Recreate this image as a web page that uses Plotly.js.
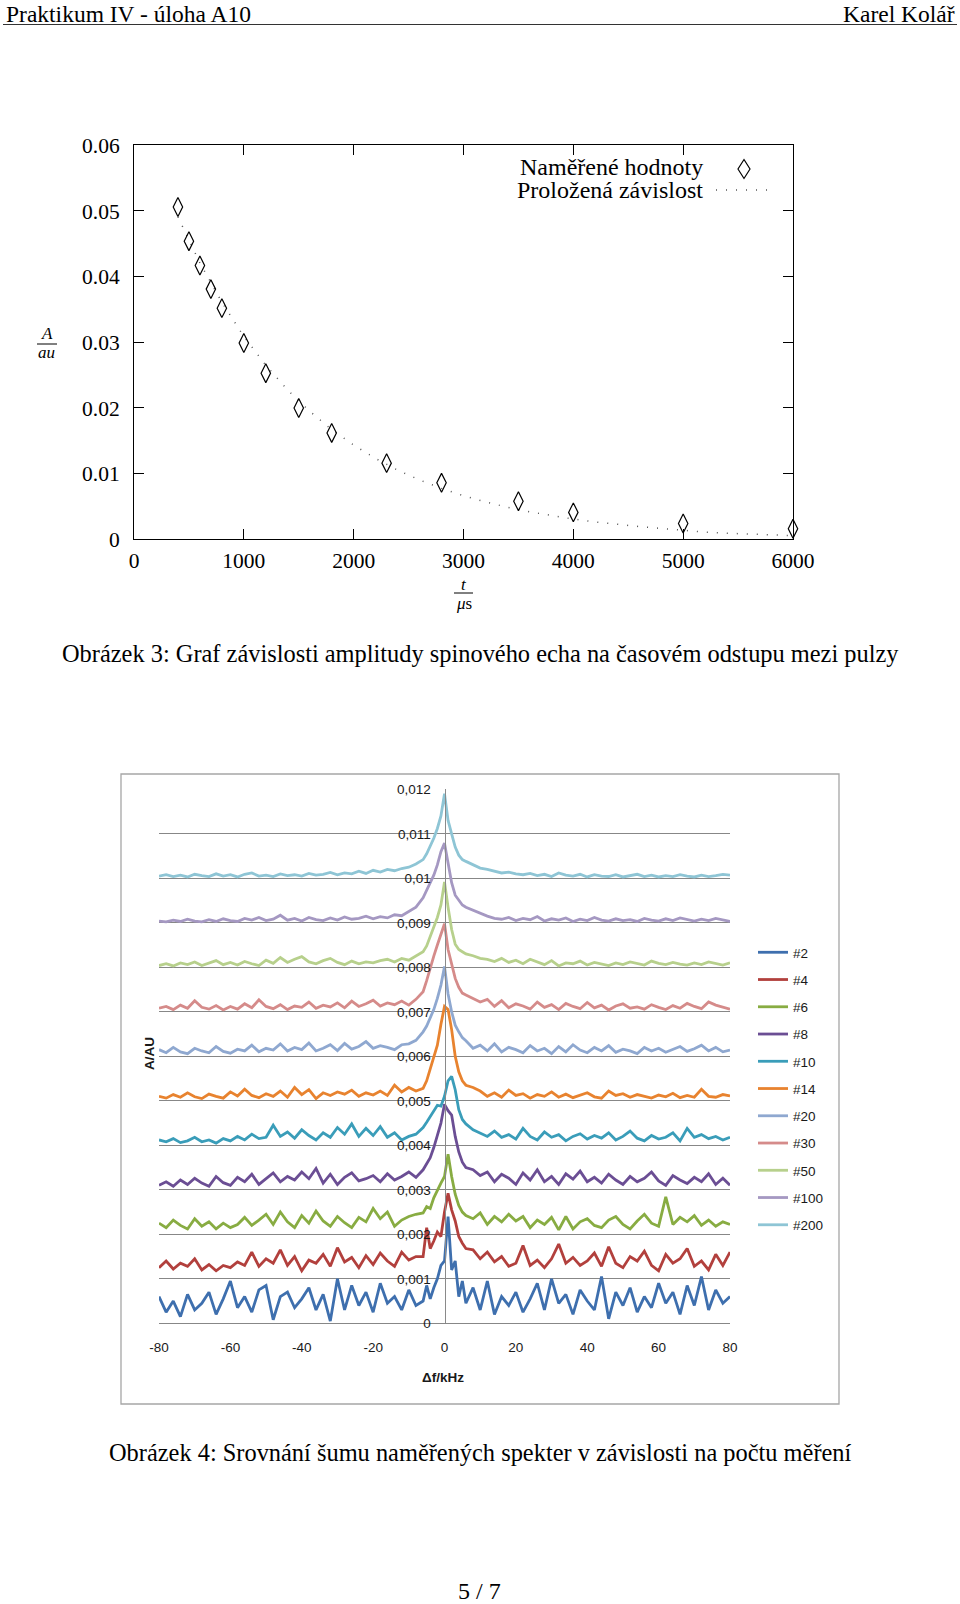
<!DOCTYPE html>
<html><head><meta charset="utf-8">
<script src="https://cdn.plot.ly/plotly-3.0.1.min.js"></script>
<style>html,body{margin:0;padding:0;background:#fff}#chart{width:960px;height:1604px}</style>
</head><body><div id="chart"></div>
<script>
// ---------- Obrázek 3 data ----------
const echoTime = [400,500,600,700,800,1000,1200,1500,1800,2300,2800,3500,4000,5000,6000];
const echoAmp  = [0.0506,0.0454,0.0417,0.0381,0.0352,0.0299,0.0253,0.0200,0.0162,0.0116,0.0086,0.0058,0.0041,0.0024,0.0016];
const fitTime  = [400,600,800,1000,1200,1400,1600,1800,2000,2200,2400,2600,2800,3000,3200,3400,3600,3800,4000,4200,4400,4600,4800,5000,5200,5400,5600,5800,6000];
const fitAmp   = [0.0491,0.0421,0.0361,0.0309,0.0265,0.0227,0.0195,0.0167,0.01434,0.0123,0.01054,0.00904,0.00775,0.00664,0.0057,0.00488,0.00419,0.00359,0.00308,0.00264,0.00226,0.00194,0.00166,0.00135,0.00110,0.00092,0.00078,0.00066,0.00056];
const ampTickVals  = [0,0.01,0.02,0.03,0.04,0.05,0.06];
const ampTickText  = ['0','0.01','0.02','0.03','0.04','0.05','0.06'];
const timeTickVals = [0,1000,2000,3000,4000,5000,6000];
const timeTickText = ['0','1000','2000','3000','4000','5000','6000'];

// ---------- Obrázek 4 data ----------
const freq = [-80,-78,-76,-74,-72,-70,-68,-66,-64,-62,-60,-58,-56,-54,-52,-50,-48,-46,-44,-42,-40,-38,-36,-34,-32,-30,-28,-26,-24,-22,-20,-18,-16,-14,-12,-10,-8,
  -6,-5,-4,-3,-2,-1,0,1,2,3,4,5,6,
  8,10,12,14,16,18,20,22,24,26,28,30,32,34,36,38,40,42,44,46,48,50,52,54,56,58,60,62,64,66,68,70,72,74,76,78,80];
const freqTickVals = [-80,-60,-40,-20,0,20,40,60,80];
const freqTickText = ['-80','-60','-40','-20','0','20','40','60','80'];
const specTickVals = [0,0.001,0.002,0.003,0.004,0.005,0.006,0.007,0.008,0.009,0.01,0.011,0.012];
const specTickText = ['0','0,001','0,002','0,003','0,004','0,005','0,006','0,007','0,008','0,009','0,01','0,011','0,012'];
const seriesNames = ['#2','#4','#6','#8','#10','#14','#20','#30','#50','#100','#200'];

const s2 = [0.00060,0.00025,0.00050,0.00015,0.00065,0.00030,0.00045,0.00070,0.00020,0.00055,0.00095,0.00035,0.00060,0.00025,0.00075,0.00085,0.00008,0.00060,0.00070,0.00035,0.00055,0.00080,0.00030,0.00065,0.00005,0.00100,0.00030,0.00085,0.00040,0.00070,0.00025,0.00090,0.00045,0.00060,0.00030,0.00075,0.00040,
  0.00050,0.00085,0.00055,0.00080,0.00100,0.00130,0.00140,0.00240,0.00120,0.00140,0.00060,0.00095,0.00045,
  0.00080,0.00030,0.00095,0.00020,0.00060,0.00040,0.00070,0.00025,0.00055,0.00090,0.00030,0.00100,0.00045,0.00065,0.00020,0.00075,0.00050,0.00030,0.00105,0.00010,0.00070,0.00040,0.00080,0.00025,0.00060,0.00035,0.00090,0.00045,0.00070,0.00020,0.00085,0.00040,0.00105,0.00030,0.00075,0.00045,0.00060];
const s4 = [0.00125,0.00140,0.00122,0.00135,0.00128,0.00145,0.00120,0.00132,0.00118,0.00130,0.00125,0.00138,0.00130,0.00160,0.00128,0.00145,0.00135,0.00165,0.00130,0.00150,0.00118,0.00142,0.00135,0.00155,0.00128,0.00170,0.00138,0.00148,0.00125,0.00152,0.00132,0.00158,0.00140,0.00128,0.00160,0.00142,0.00150,
  0.00150,0.00215,0.00168,0.00185,0.00205,0.00195,0.00250,0.00292,0.00255,0.00230,0.00195,0.00180,0.00168,
  0.00165,0.00145,0.00160,0.00138,0.00150,0.00128,0.00135,0.00175,0.00130,0.00142,0.00125,0.00145,0.00178,0.00135,0.00148,0.00130,0.00140,0.00158,0.00128,0.00172,0.00135,0.00125,0.00150,0.00140,0.00162,0.00130,0.00118,0.00155,0.00135,0.00145,0.00168,0.00128,0.00140,0.00120,0.00155,0.00130,0.00160];
const s6 = [0.00225,0.00215,0.00232,0.00220,0.00212,0.00235,0.00218,0.00228,0.00212,0.00225,0.00215,0.00222,0.00238,0.00220,0.00232,0.00245,0.00222,0.00250,0.00228,0.00215,0.00242,0.00225,0.00252,0.00230,0.00218,0.00240,0.00226,0.00215,0.00238,0.00228,0.00258,0.00235,0.00250,0.00218,0.00232,0.00240,0.00245,
  0.00248,0.00262,0.00258,0.00282,0.00300,0.00315,0.00330,0.00380,0.00330,0.00290,0.00265,0.00250,0.00242,
  0.00235,0.00248,0.00222,0.00240,0.00228,0.00245,0.00230,0.00240,0.00215,0.00232,0.00222,0.00238,0.00210,0.00240,0.00212,0.00228,0.00235,0.00220,0.00215,0.00232,0.00240,0.00222,0.00212,0.00230,0.00245,0.00225,0.00218,0.00284,0.00222,0.00238,0.00228,0.00242,0.00220,0.00232,0.00218,0.00228,0.00222];
const s8 = [0.00310,0.00318,0.00308,0.00322,0.00312,0.00326,0.00315,0.00308,0.00330,0.00316,0.00310,0.00328,0.00318,0.00335,0.00312,0.00325,0.00338,0.00318,0.00330,0.00322,0.00340,0.00325,0.00348,0.00315,0.00335,0.00312,0.00328,0.00338,0.00320,0.00325,0.00332,0.00318,0.00336,0.00322,0.00330,0.00340,0.00328,
  0.00345,0.00360,0.00372,0.00395,0.00420,0.00450,0.00492,0.00478,0.00468,0.00420,0.00385,0.00362,0.00350,
  0.00345,0.00332,0.00340,0.00318,0.00335,0.00326,0.00312,0.00338,0.00322,0.00345,0.00318,0.00330,0.00312,0.00336,0.00324,0.00342,0.00318,0.00328,0.00315,0.00335,0.00322,0.00312,0.00330,0.00318,0.00326,0.00340,0.00320,0.00310,0.00332,0.00322,0.00314,0.00328,0.00318,0.00336,0.00312,0.00326,0.00310];
const s10 = [0.00412,0.00408,0.00415,0.00406,0.00410,0.00418,0.00408,0.00412,0.00405,0.00415,0.00410,0.00420,0.00412,0.00425,0.00415,0.00418,0.00445,0.00420,0.00430,0.00416,0.00435,0.00422,0.00412,0.00428,0.00418,0.00440,0.00425,0.00448,0.00420,0.00438,0.00422,0.00442,0.00418,0.00428,0.00412,0.00420,0.00425,
  0.00440,0.00452,0.00465,0.00478,0.00490,0.00488,0.00510,0.00545,0.00555,0.00525,0.00480,0.00458,0.00448,
  0.00435,0.00428,0.00420,0.00432,0.00418,0.00424,0.00414,0.00438,0.00420,0.00412,0.00430,0.00418,0.00424,0.00410,0.00420,0.00426,0.00414,0.00422,0.00416,0.00428,0.00412,0.00420,0.00432,0.00416,0.00410,0.00422,0.00414,0.00418,0.00428,0.00410,0.00438,0.00418,0.00424,0.00415,0.00420,0.00412,0.00418];
const s14 = [0.00510,0.00506,0.00514,0.00508,0.00518,0.00509,0.00505,0.00515,0.00510,0.00506,0.00520,0.00511,0.00526,0.00512,0.00507,0.00516,0.00510,0.00522,0.00508,0.00530,0.00514,0.00525,0.00505,0.00518,0.00512,0.00520,0.00515,0.00524,0.00510,0.00518,0.00513,0.00522,0.00512,0.00535,0.00520,0.00530,0.00522,
  0.00528,0.00545,0.00570,0.00595,0.00625,0.00672,0.00712,0.00705,0.00660,0.00600,0.00565,0.00545,0.00535,
  0.00530,0.00522,0.00510,0.00518,0.00508,0.00524,0.00512,0.00516,0.00506,0.00514,0.00510,0.00520,0.00508,0.00515,0.00507,0.00512,0.00518,0.00509,0.00506,0.00522,0.00512,0.00516,0.00508,0.00514,0.00510,0.00506,0.00513,0.00509,0.00517,0.00507,0.00512,0.00508,0.00526,0.00510,0.00508,0.00514,0.00511];
const s20 = [0.00615,0.00608,0.00620,0.00610,0.00606,0.00618,0.00612,0.00608,0.00622,0.00611,0.00607,0.00616,0.00612,0.00625,0.00610,0.00618,0.00614,0.00628,0.00612,0.00620,0.00615,0.00630,0.00612,0.00618,0.00626,0.00613,0.00629,0.00616,0.00622,0.00633,0.00618,0.00624,0.00620,0.00615,0.00626,0.00628,0.00636,
  0.00655,0.00668,0.00685,0.00705,0.00730,0.00760,0.00802,0.00740,0.00700,0.00670,0.00655,0.00642,0.00635,
  0.00618,0.00625,0.00612,0.00628,0.00610,0.00620,0.00615,0.00608,0.00624,0.00612,0.00618,0.00606,0.00622,0.00610,0.00626,0.00614,0.00608,0.00620,0.00612,0.00624,0.00609,0.00616,0.00612,0.00606,0.00620,0.00612,0.00618,0.00609,0.00615,0.00622,0.00611,0.00617,0.00625,0.00612,0.00620,0.00610,0.00614];
const s30 = [0.00708,0.00712,0.00705,0.00715,0.00708,0.00725,0.00710,0.00706,0.00714,0.00704,0.00712,0.00706,0.00718,0.00709,0.00727,0.00712,0.00707,0.00716,0.00705,0.00713,0.00710,0.00722,0.00708,0.00715,0.00711,0.00720,0.00709,0.00724,0.00712,0.00718,0.00726,0.00713,0.00720,0.00716,0.00724,0.00715,0.00728,
  0.00745,0.00770,0.00800,0.00825,0.00850,0.00872,0.00898,0.00840,0.00805,0.00775,0.00755,0.00742,0.00738,
  0.00730,0.00722,0.00728,0.00712,0.00725,0.00709,0.00718,0.00713,0.00706,0.00722,0.00710,0.00716,0.00705,0.00719,0.00712,0.00707,0.00721,0.00709,0.00715,0.00704,0.00713,0.00718,0.00708,0.00711,0.00706,0.00716,0.00710,0.00705,0.00714,0.00708,0.00719,0.00712,0.00707,0.00722,0.00715,0.00710,0.00706];
const s50 = [0.00804,0.00808,0.00803,0.00810,0.00806,0.00812,0.00804,0.00809,0.00815,0.00806,0.00811,0.00805,0.00813,0.00808,0.00804,0.00816,0.00809,0.00822,0.00811,0.00818,0.00824,0.00812,0.00808,0.00815,0.00820,0.00811,0.00806,0.00814,0.00808,0.00812,0.00810,0.00815,0.00818,0.00812,0.00820,0.00816,0.00825,
  0.00835,0.00848,0.00868,0.00890,0.00912,0.00940,0.00992,0.00935,0.00885,0.00852,0.00840,0.00835,0.00830,
  0.00826,0.00820,0.00818,0.00813,0.00820,0.00811,0.00816,0.00808,0.00818,0.00812,0.00806,0.00815,0.00803,0.00810,0.00808,0.00814,0.00805,0.00811,0.00807,0.00804,0.00810,0.00806,0.00812,0.00808,0.00805,0.00814,0.00809,0.00806,0.00811,0.00807,0.00805,0.00810,0.00806,0.00812,0.00808,0.00805,0.00810];
const s100 = [0.00904,0.00902,0.00906,0.00903,0.00908,0.00904,0.00902,0.00907,0.00903,0.00909,0.00905,0.00903,0.00910,0.00906,0.00912,0.00905,0.00908,0.00917,0.00906,0.00910,0.00904,0.00912,0.00907,0.00905,0.00911,0.00906,0.00913,0.00908,0.00910,0.00915,0.00909,0.00914,0.00911,0.00918,0.00916,0.00925,0.00935,
  0.00956,0.00972,0.00990,0.01007,0.01030,0.01060,0.01079,0.01030,0.00990,0.00962,0.00950,0.00940,0.00935,
  0.00928,0.00922,0.00915,0.00910,0.00908,0.00912,0.00905,0.00910,0.00907,0.00914,0.00904,0.00909,0.00906,0.00911,0.00903,0.00908,0.00905,0.00912,0.00906,0.00904,0.00909,0.00905,0.00907,0.00903,0.00910,0.00906,0.00904,0.00909,0.00905,0.00911,0.00907,0.00904,0.00908,0.00905,0.00910,0.00906,0.00903];
const s200 = [0.01005,0.01008,0.01004,0.01007,0.01003,0.01009,0.01006,0.01004,0.01010,0.01005,0.01008,0.01003,0.01009,0.01012,0.01005,0.01007,0.01004,0.01010,0.01006,0.01008,0.01005,0.01011,0.01007,0.01009,0.01013,0.01008,0.01012,0.01010,0.01016,0.01011,0.01018,0.01014,0.01020,0.01017,0.01022,0.01025,0.01032,
  0.01042,0.01055,0.01072,0.01090,0.01112,0.01140,0.01190,0.01130,0.01100,0.01070,0.01052,0.01042,0.01038,
  0.01030,0.01023,0.01020,0.01016,0.01012,0.01014,0.01010,0.01008,0.01011,0.01006,0.01009,0.01004,0.01012,0.01007,0.01005,0.01009,0.01003,0.01008,0.01005,0.01004,0.01008,0.01003,0.01006,0.01009,0.01004,0.01007,0.01003,0.01006,0.01004,0.01008,0.01005,0.01003,0.01007,0.01004,0.01006,0.01009,0.01007];
const spectra = [s2,s4,s6,s8,s10,s14,s20,s30,s50,s100,s200];

// ---------- styling ----------
const seriesColors = ['#3E6FAE','#B2403D','#88AC42','#6B4E94','#3A9DB9','#E8832F','#8FA8D0','#D58B8A','#B7D08C','#A598C2','#8EC5D5'];
const W = 960, H = 1604;
const px = v => v / W;
const py = v => 1 - v / H;
const SERIF = 'Liberation Serif, DejaVu Serif, serif';
const SANS = 'Liberation Sans, Arial, sans-serif';

const traces = [];
traces.push({
  type:'scatter', mode:'lines', x: fitTime, y: fitAmp, xaxis:'x', yaxis:'y',
  line:{color:'#555', width:1.5, dash:'1px,9px'}, showlegend:false, hoverinfo:'skip'
});
traces.push({
  type:'scatter', mode:'markers', x: echoTime, y: echoAmp, xaxis:'x', yaxis:'y', cliponaxis:false,
  marker:{symbol:'diamond-tall-open', size:13.5, color:'#000', line:{width:1.2, color:'#000'}},
  showlegend:false, hoverinfo:'skip'
});
spectra.forEach((s, i) => {
  traces.push({
    type:'scatter', mode:'lines', x: freq, y: s, xaxis:'x2', yaxis:'y2',
    name: seriesNames[i], legendgroup: seriesNames[i],
    line:{color: seriesColors[i], width:2.8}, hoverinfo:'skip'
  });
});

function ann(text, x, y, opts) {
  return Object.assign({text, x: px(x), y: py(y), xref:'paper', yref:'paper', showarrow:false,
    xanchor:'center', yanchor:'middle', font:{family:SERIF, size:24, color:'#000'}}, opts || {});
}
function diamondPath(cx, cy, hw, hh) {
  return `M${px(cx)},${py(cy-hh)} L${px(cx+hw)},${py(cy)} L${px(cx)},${py(cy+hh)} L${px(cx-hw)},${py(cy)} Z`;
}

const layout = {
  width: W, height: H, margin:{l:0, r:0, t:0, b:0},
  paper_bgcolor:'#fff', plot_bgcolor:'rgba(0,0,0,0)',
  showlegend: true, hovermode:false,
  xaxis:{domain:[px(134), px(793)], range:[0,6000], anchor:'y',
    showline:true, linecolor:'#000', linewidth:1, mirror:'ticks', showgrid:false, zeroline:false,
    ticks:'inside', ticklen:10, tickwidth:1, tickcolor:'#000',
    tickvals: timeTickVals, ticktext: timeTickText, ticklabelstandoff:2,
    tickfont:{family:SERIF, size:21.5, color:'#000'}},
  yaxis:{domain:[py(539.3), py(145.3)], range:[0,0.06], anchor:'x',
    showline:true, linecolor:'#000', linewidth:1, mirror:'ticks', showgrid:false, zeroline:false,
    ticks:'inside', ticklen:10, tickwidth:1, tickcolor:'#000',
    tickvals: ampTickVals, ticktext: ampTickText, ticklabelstandoff:9,
    tickfont:{family:SERIF, size:21.5, color:'#000'}},
  xaxis2:{domain:[px(159), px(730)], range:[-80,80], anchor:'y2',
    showline:false, showgrid:false, zeroline:false, ticks:'',
    tickvals: freqTickVals, ticktext: freqTickText, ticklabelstandoff:14,
    tickfont:{family:SANS, size:13.5, color:'#1a1a1a'}},
  yaxis2:{domain:[py(1323.3), py(789.3)], range:[0,0.012], anchor:'free', position: px(444.5),
    showline:true, linecolor:'#8a8a8a', linewidth:1,
    showgrid:true, gridcolor:'#878787', gridwidth:1, zeroline:true, zerolinecolor:'#878787', zerolinewidth:1,
    ticks:'', tickvals: specTickVals, ticktext: specTickText, ticklabelstandoff:11,
    tickfont:{family:SANS, size:13.5, color:'#1a1a1a'}},
  legend:{x: px(753), y: py(937), xanchor:'left', yanchor:'top', traceorder:'grouped', tracegroupgap:6.7,
    bgcolor:'rgba(0,0,0,0)', borderwidth:0, font:{family:SANS, size:13.5, color:'#1a1a1a'}},
  shapes:[
    {type:'line', xref:'paper', yref:'paper', x0:px(3), x1:px(957), y0:py(24.5), y1:py(24.5), line:{color:'#333', width:1.2}},
    {type:'rect', xref:'paper', yref:'paper', x0:px(121), x1:px(839), y0:py(1404), y1:py(774), line:{color:'#A6A6A6', width:1.3}},
    {type:'line', xref:'paper', yref:'paper', x0:px(37), x1:px(57), y0:py(344), y1:py(344), line:{color:'#000', width:1}},
    {type:'line', xref:'paper', yref:'paper', x0:px(454), x1:px(473), y0:py(593), y1:py(593), line:{color:'#000', width:1}},
    {type:'line', xref:'paper', yref:'paper', x0:px(716), x1:px(776), y0:py(190), y1:py(190), line:{color:'#555', width:1.5, dash:'1px,9px'}},
    {type:'path', xref:'paper', yref:'paper', path: diamondPath(744, 169, 6, 9.5), line:{color:'#000', width:1.2}}
  ],
  annotations:[
    ann('Praktikum IV - úloha A10', 5, 0, {xanchor:'left', yanchor:'top', borderpad:0, font:{family:SERIF, size:23.5, color:'#000'}}),
    ann('Karel Kolář', 956, 0, {xanchor:'right', yanchor:'top', borderpad:0, font:{family:SERIF, size:23.5, color:'#000'}}),
    ann('<i>A</i>', 46.5, 334, {font:{family:SERIF, size:17, color:'#000'}}),
    ann('<i>au</i>', 46.5, 353, {font:{family:SERIF, size:17, color:'#000'}}),
    ann('<i>t</i>', 463.5, 584, {font:{family:SERIF, size:17, color:'#000'}}),
    ann('<i>μ</i>s', 463.5, 603, {font:{family:SERIF, size:17, color:'#000'}}),
    ann('Naměřené hodnoty', 705, 166.5, {xanchor:'right'}),
    ann('Proložená závislost', 705, 190, {xanchor:'right'}),
    ann('Obrázek 3: Graf závislosti amplitudy spinového echa na časovém odstupu mezi pulzy', 480, 653, {font:{family:SERIF, size:24.4, color:'#000'}}),
    ann('<b>A/AU</b>', 149, 1054, {textangle:-90, font:{family:SANS, size:13.5, color:'#1a1a1a'}}),
    ann('<b>Δf/kHz</b>', 443, 1377, {font:{family:SANS, size:13.5, color:'#1a1a1a'}}),
    ann('Obrázek 4: Srovnání šumu naměřených spekter v závislosti na počtu měření', 480.5, 1452, {font:{family:SERIF, size:24.4, color:'#000'}}),
    ann('5 / 7', 479, 1591, {font:{family:SERIF, size:24, color:'#000'}})
  ]
};

Plotly.newPlot('chart', traces, layout, {staticPlot:true, displayModeBar:false});
</script></body></html>
